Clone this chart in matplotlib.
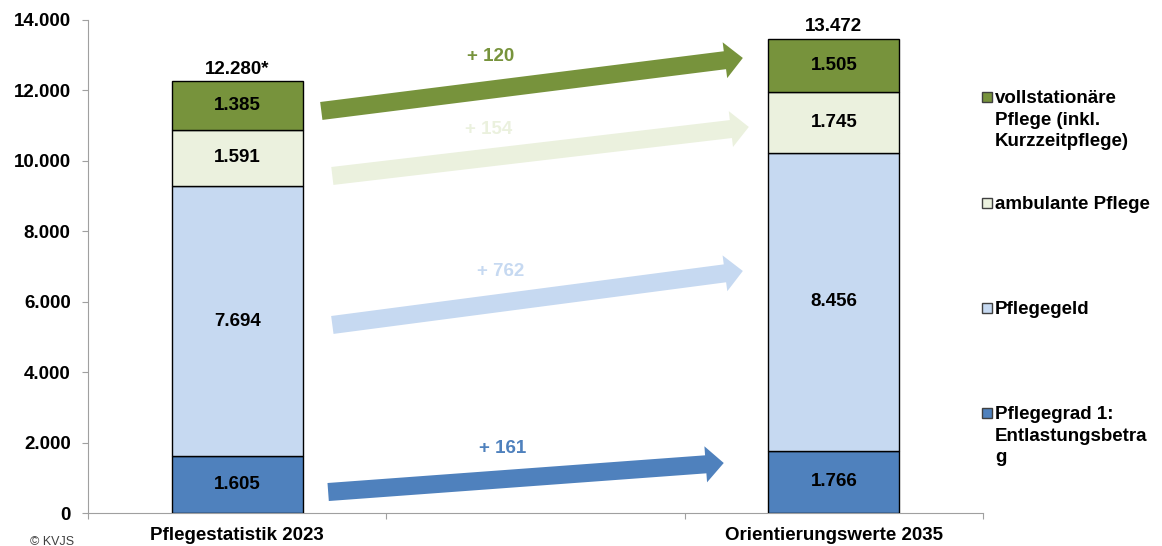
import matplotlib.pyplot as plt
from matplotlib.patches import Rectangle

plt.rcParams['font.family'] = ['Liberation Sans', 'DejaVu Sans']

# Data
categories = ["Pflegestatistik 2023", "", "Orientierungswerte 2035"]
bar_pos = [0, 2]
series_names = [
    "Pflegegrad 1:\nEntlastungsbetra\ng",
    "Pflegegeld",
    "ambulante Pflege",
    "vollstationäre\nPflege (inkl.\nKurzzeitpflege)",
]
pflegegrad1 = [1605, 1766]
pflegegeld = [7694, 8456]
ambulant = [1591, 1745]
vollstationaer = [1385, 1505]
totals = ["12.280*", "13.472"]
changes = ["+ 161", "+ 762", "+ 154", "+ 120"]

colors = ["#4F81BD", "#C6D9F1", "#EBF1DE", "#77933C"]
FS = 13.5


def fmt(v):
    return f"{v:,.0f}".replace(",", ".")


fig = plt.figure(figsize=(11.62, 5.46), dpi=100)
ax = fig.add_axes([88 / 1162, 1 - 513 / 546, (983 - 88) / 1162, 493 / 546])

series = [pflegegrad1, pflegegeld, ambulant, vollstationaer]
bottom = [0] * len(bar_pos)
for vals, col in zip(series, colors):
    ax.bar(bar_pos, vals, 0.44, bottom=bottom, color=col,
           edgecolor="black", linewidth=1, zorder=3)
    for i, v in enumerate(vals):
        ax.text(bar_pos[i], bottom[i] + v / 2, fmt(v), ha="center", va="center",
                fontsize=FS, fontweight="bold", color="black", zorder=4)
    bottom = [b + v for b, v in zip(bottom, vals)]

# Totals above bars
for i, t in enumerate(totals):
    ax.text(bar_pos[i], bottom[i] + 90, t, ha="center", va="bottom",
            fontsize=FS, fontweight="bold")

# Change arrows (tail, tip) in data coords
arrow_pos = [
    ((0.305, 596), (1.631, 1420)),
    ((0.319, 5340), (1.695, 6873)),
    ((0.319, 9571), (1.715, 10963)),
    ((0.282, 11417), (1.695, 12922)),
]
label_pos = [(0.889, 1818), (0.883, 6845), (0.842, 10877), (0.849, 12950)]
for (tail, tip), col, lab, lp in zip(arrow_pos, colors, changes, label_pos):
    ax.annotate("", xy=tip, xytext=tail,
                arrowprops=dict(arrowstyle="simple,head_width=2.6,head_length=1.3,tail_width=1.3",
                                mutation_scale=10, color=col, lw=0,
                                shrinkA=0, shrinkB=0), zorder=2)
    ax.text(lp[0], lp[1], lab, ha="center", va="center", color=col,
            fontsize=FS, fontweight="bold")

ax.set_xlim(-0.5, 2.5)
ax.set_ylim(0, 14000)
ax.set_yticks(range(0, 14001, 2000))
ax.set_yticklabels([fmt(v) for v in range(0, 14001, 2000)],
                   fontsize=FS, fontweight="bold")
ax.set_xticks([-0.5, 0.5, 1.5, 2.5])
ax.set_xticklabels([])
ax.set_xticks(range(len(categories)), minor=True)
ax.set_xticklabels(categories, minor=True, fontsize=FS, fontweight="bold")
ax.tick_params(axis="x", which="minor", length=0, pad=10)
ax.tick_params(axis="x", which="major", length=4.5, color="#A0A0A0", direction="out")
ax.tick_params(axis="y", length=4.5, color="#A0A0A0", pad=8)
for s in ["top", "right"]:
    ax.spines[s].set_visible(False)
for s in ["left", "bottom"]:
    ax.spines[s].set_color("#A0A0A0")

# Legend (manual, top to bottom)
legend_y = [97, 203, 308, 413]
for name, col, ly in zip(series_names[::-1], colors[::-1], legend_y):
    fig.patches.append(Rectangle((982 / 1162, 1 - (ly + 5) / 546), 10 / 1162, 10 / 546,
                                 transform=fig.transFigure, facecolor=col,
                                 edgecolor="#404040", linewidth=1))
    fig.text(995 / 1162, 1 - (ly - 7) / 546, name, ha="left", va="top",
             fontsize=FS, fontweight="bold", linespacing=1.35)

fig.text(30 / 1162, 1 / 546, "© KVJS", fontsize=9, ha="left", va="baseline",
         color="#404040")

fig.savefig("out.png", dpi=100)
